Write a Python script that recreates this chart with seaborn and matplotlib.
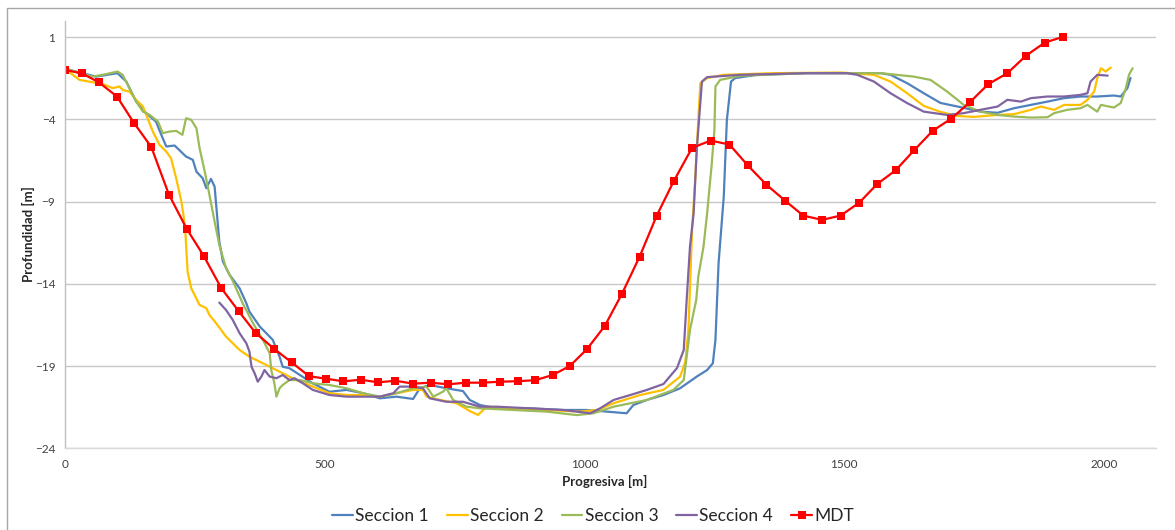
import matplotlib
matplotlib.use("Agg")
import matplotlib.pyplot as plt
from matplotlib.lines import Line2D
import seaborn as sns
import pandas as pd

# ---------------- data ----------------
s1_x = [0, 60, 101, 118, 137, 156, 175, 188, 195, 211, 233, 246, 253, 265, 272, 281, 288, 291, 297, 304,
        317, 336, 349, 355, 375, 400, 413, 419, 432, 452, 477, 509, 542, 574, 606, 638, 670, 683, 702, 734,
        766, 779, 799, 831, 895, 959, 1004, 1043, 1081, 1094, 1120, 1152, 1184, 1216, 1236, 1247, 1252, 1258,
        1268, 1274, 1282, 1290, 1332, 1428, 1525, 1570, 1589, 1621, 1653, 1685, 1730, 1762, 1795, 1827, 1859,
        1891, 1923, 1955, 1987, 2019, 2032, 2045, 2051]
s1_y = [-0.93, -1.40, -1.19, -1.70, -2.92, -3.62, -4.13, -5.14, -5.65, -5.59, -6.26, -6.46, -7.18, -7.58,
        -8.18, -7.62, -8.09, -9.20, -11.43, -12.65, -13.46, -14.27, -15.18, -15.69, -16.60, -17.41, -18.43,
        -19.04, -19.13, -19.54, -20.05, -20.56, -20.45, -20.65, -20.96, -20.86, -21.00, -20.35, -20.15, -20.35,
        -20.52, -21.06, -21.37, -21.57, -21.57, -21.67, -21.67, -21.77, -21.87, -21.37, -21.06, -20.76, -20.35,
        -19.64, -19.24, -18.83, -17.41, -12.75, -8.70, -4.03, -1.70, -1.49, -1.29, -1.19, -1.19, -1.19, -1.29,
        -1.80, -2.41, -3.00, -3.30, -3.53, -3.60, -3.32, -3.12, -2.92, -2.71, -2.61, -2.61, -2.55, -2.61, -2.10,
        -1.48]

s2_x = [0, 15, 28, 53, 73, 92, 105, 111, 124, 137, 150, 159, 169, 182, 195, 204, 214, 224, 228, 232, 236,
        243, 259, 272, 278, 291, 310, 336, 355, 381, 413, 445, 477, 509, 542, 574, 606, 638, 670, 689, 696,
        722, 754, 779, 795, 812, 863, 927, 991, 1024, 1056, 1107, 1152, 1184, 1194, 1200, 1207, 1213, 1219,
        1223, 1236, 1268, 1364, 1493, 1557, 1589, 1621, 1653, 1685, 1717, 1749, 1795, 1827, 1859, 1878, 1904,
        1923, 1955, 1968, 1981, 1987, 1994, 2003, 2013]
s2_y = [-0.93, -1.29, -1.60, -1.74, -1.86, -2.10, -2.00, -2.21, -2.31, -2.81, -3.22, -3.93, -4.74, -5.55,
        -5.96, -6.36, -7.58, -9.00, -9.81, -11.03, -13.26, -14.27, -15.28, -15.48, -15.89, -16.40, -17.21,
        -18.02, -18.43, -18.83, -19.34, -19.85, -20.25, -20.65, -20.76, -20.76, -20.86, -20.65, -20.45, -20.45,
        -20.86, -21.06, -21.26, -21.73, -21.97, -21.47, -21.57, -21.67, -21.77, -21.67, -21.26, -20.76, -20.45,
        -19.64, -18.75, -16.80, -10.72, -7.68, -4.03, -1.80, -1.49, -1.29, -1.19, -1.15, -1.29, -1.70, -2.41,
        -3.18, -3.54, -3.79, -3.85, -3.73, -3.68, -3.42, -3.22, -3.42, -3.12, -3.12, -2.81, -2.31, -1.49, -0.89,
        -1.09, -0.85]

s3_x = [0, 28, 53, 79, 101, 111, 124, 137, 150, 163, 179, 188, 201, 214, 226, 233, 243, 253, 259, 269, 278,
        288, 297, 310, 323, 342, 362, 381, 394, 397, 403, 407, 413, 419, 432, 452, 477, 509, 542, 574, 606,
        638, 670, 696, 709, 728, 734, 747, 773, 799, 863, 927, 985, 1017, 1056, 1120, 1171, 1191, 1199, 1203,
        1215, 1219, 1229, 1236, 1245, 1250, 1252, 1261, 1300, 1428, 1570, 1634, 1666, 1698, 1730, 1762, 1795,
        1827, 1859, 1891, 1904, 1929, 1955, 1968, 1987, 1994, 2019, 2032, 2042, 2048, 2055]
s3_y = [-0.89, -1.19, -1.40, -1.25, -1.09, -1.29, -2.10, -2.92, -3.53, -3.73, -4.13, -4.84, -4.74, -4.70,
        -4.94, -3.93, -4.03, -4.54, -5.75, -7.18, -8.59, -10.22, -11.63, -13.05, -13.82, -15.18, -16.40, -17.41,
        -18.22, -19.24, -20.05, -20.86, -20.35, -20.15, -19.85, -19.85, -20.05, -20.15, -20.35, -20.65, -20.86,
        -20.65, -20.35, -20.25, -20.86, -20.55, -20.35, -21.06, -21.47, -21.57, -21.67, -21.77, -21.98, -21.87,
        -21.47, -21.06, -20.45, -19.85, -17.82, -16.80, -14.98, -13.56, -11.74, -9.71, -6.66, -4.64, -2.00,
        -1.60, -1.35, -1.19, -1.19, -1.40, -1.60, -2.31, -3.12, -3.53, -3.73, -3.83, -3.89, -3.87, -3.62, -3.42,
        -3.32, -3.12, -3.53, -3.12, -3.28, -3.01, -2.10, -1.29, -0.89]

s4_x = [297, 310, 323, 336, 349, 355, 359, 365, 371, 378, 384, 394, 407, 419, 432, 442, 458, 477, 509, 542,
        574, 606, 632, 644, 670, 689, 702, 734, 766, 799, 831, 895, 959, 1011, 1030, 1056, 1088, 1120, 1152,
        1178, 1191, 1197, 1203, 1210, 1216, 1226, 1236, 1300, 1428, 1505, 1525, 1557, 1589, 1621, 1653, 1698,
        1730, 1762, 1795, 1814, 1840, 1859, 1891, 1923, 1955, 1968, 1974, 1987, 2007]
s4_y = [-15.14, -15.59, -16.20, -17.00, -17.61, -18.12, -19.04, -19.44, -19.95, -19.64, -19.24, -19.64,
        -19.74, -19.54, -19.85, -19.74, -20.05, -20.45, -20.76, -20.86, -20.86, -20.86, -20.65, -20.25, -20.25,
        -20.35, -20.96, -21.17, -21.17, -21.47, -21.47, -21.57, -21.67, -21.87, -21.57, -21.06, -20.76, -20.45,
        -20.09, -19.12, -18.02, -14.78, -11.74, -9.71, -5.86, -1.70, -1.43, -1.29, -1.19, -1.19, -1.29, -1.70,
        -2.41, -3.01, -3.53, -3.73, -3.62, -3.42, -3.22, -2.81, -2.92, -2.71, -2.61, -2.61, -2.51, -2.41, -1.70,
        -1.29, -1.34]

mdt_x = [0, 33, 65, 100, 133, 166, 200, 234, 267, 301, 334, 367, 402, 436, 470, 503, 536, 569, 603, 636,
         670, 704, 738, 771, 804, 838, 871, 905, 939, 972, 1005, 1039, 1072, 1106, 1139, 1172, 1207, 1243,
         1279, 1314, 1350, 1386, 1421, 1457, 1493, 1529, 1563, 1599, 1635, 1670, 1706, 1742, 1777, 1814, 1850,
         1886, 1921]
mdt_y = [-0.99, -1.21, -1.74, -2.61, -4.23, -5.67, -8.57, -10.64, -12.30, -14.27, -15.65, -16.99, -17.94,
         -18.77, -19.62, -19.77, -19.93, -19.83, -19.99, -19.89, -20.07, -20.01, -20.11, -20.01, -20.01, -19.95,
         -19.92, -19.86, -19.54, -18.99, -17.96, -16.56, -14.61, -12.35, -9.85, -7.74, -5.73, -5.29, -5.53,
         -6.79, -7.97, -8.94, -9.85, -10.11, -9.85, -9.06, -7.94, -7.09, -5.86, -4.70, -3.95, -2.95, -1.86,
         -1.19, -0.12, 0.67, 1.02]

series_names = ["Seccion 1", "Seccion 2", "Seccion 3", "Seccion 4", "MDT"]
x_ticks = [0, 500, 1000, 1500, 2000]
y_ticks = [-24, -19, -14, -9, -4, 1]
x_label = "Progresiva [m]"
y_label = "Profundidad [m]"

# ---------------- styling ----------------
sns.set_theme(style="white")
plt.rcParams["font.family"] = ["Lato", "DejaVu Sans"]

colors = {"Seccion 1": "#4F81BD", "Seccion 2": "#FFC000", "Seccion 3": "#9BBB59",
          "Seccion 4": "#8064A2", "MDT": "#FF0000"}

fig = plt.figure(figsize=(11.75, 5.3), dpi=100)
ax = fig.add_axes([65 / 1175, 1 - 448.3 / 530, (1156 - 65) / 1175, (448.3 - 20.7) / 530])

data = [(s1_x, s1_y), (s2_x, s2_y), (s3_x, s3_y), (s4_x, s4_y)]
for name, (xs, ys) in zip(series_names[:4], data):
    df = pd.DataFrame({"x": xs, "y": ys})
    sns.lineplot(data=df, x="x", y="y", ax=ax, sort=False, estimator=None,
                 color=colors[name], lw=1.6, label=name)

df_m = pd.DataFrame({"x": mdt_x, "y": mdt_y})
sns.lineplot(data=df_m, x="x", y="y", ax=ax, sort=False, estimator=None,
             color=colors["MDT"], lw=1.6, marker="s", markersize=5.5,
             markeredgewidth=0, label="MDT")

ax.set_xlim(0, 2100)
ax.set_ylim(-24, 2)
ax.set_xticks(x_ticks)
ax.set_yticks(y_ticks)
ax.yaxis.grid(True, color="#C8C8C8", lw=1.0)
ax.xaxis.grid(False)
for side in ["top", "right"]:
    ax.spines[side].set_visible(False)
ax.spines["left"].set_color("#BFBFBF")
ax.spines["bottom"].set_color("#D9D9D9")
ax.spines["left"].set_linewidth(1.0)
ax.spines["bottom"].set_linewidth(1.0)
ax.tick_params(axis="both", length=0, labelsize=8.5, colors="#404040", pad=7)
ax.tick_params(axis="x", pad=8)

ax.set_xlabel(x_label, fontsize=9.5, fontweight="bold", color="#262626")
ax.set_ylabel(y_label, fontsize=9.5, fontweight="bold", color="#262626")
ax.xaxis.set_label_coords(0.5 - 0.005, -0.062)
ax.yaxis.set_label_coords(-0.0275, 0.5)

leg = ax.legend(loc="center", bbox_to_anchor=(0.484, -0.158), ncol=5, frameon=False,
                fontsize=12.5, handlelength=1.2, handletextpad=0.12, columnspacing=1.05,
                labelcolor="#262626", borderaxespad=0, borderpad=0)

# chart-area border (top and left visible in the reference)
fig.add_artist(Line2D([7 / 1175, 7 / 1175, 1.0], [0.0, 1 - 8 / 530, 1 - 8 / 530],
                      transform=fig.transFigure, color="#A6A6A6", lw=1.0))

fig.savefig("out.png", dpi=100, facecolor="white")
